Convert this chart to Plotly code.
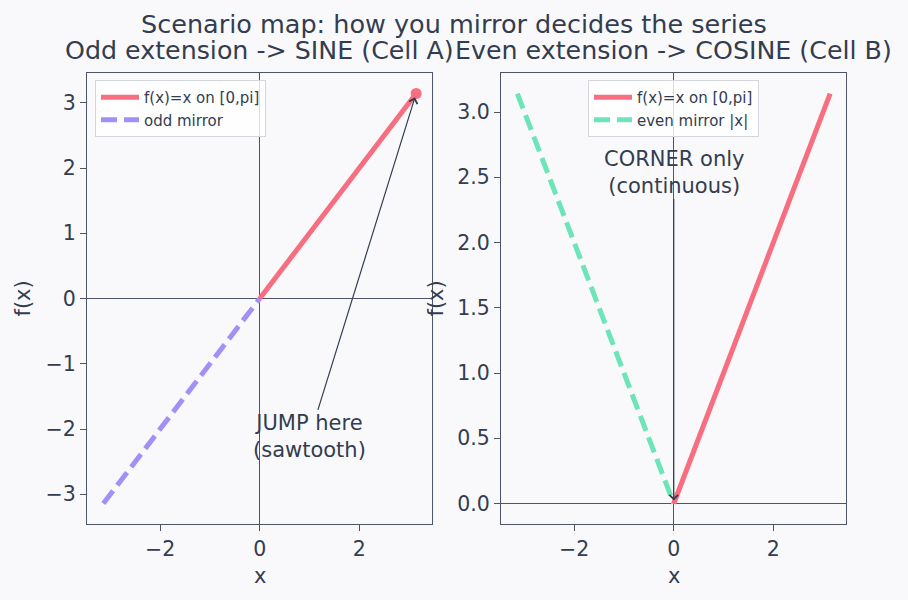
import plotly.graph_objects as go

PI = 3.14159
# data
x_base = [0.0, PI]
y_base = [0.0, PI]
x_mirror = [-PI, 0.0]
y_odd = [-PI, 0.0]
y_even = [PI, 0.0]
end_pt_x = [PI]
end_pt_y = [PI]

left_yticks = [-3, -2, -1, 0, 1, 2, 3]
right_yticks = [0.0, 0.5, 1.0, 1.5, 2.0, 2.5, 3.0]
xticks = [-2, 0, 2]

PINK = "#f76e80"
PURPLE = "#a48ff6"
GREEN = "#6ee5b8"
TEXT = "#333d4f"
SPINE = "#4e5565"
BG = "#f9f9fc"
FONT = "DejaVu Sans"

W, H = 908, 600
def px(x):
    return x / W
def py(y):
    return 1 - y / H

fig = go.Figure()

# Left panel
fig.add_trace(go.Scatter(x=x_mirror, y=y_odd, mode="lines", name="odd mirror",
                         line=dict(color=PURPLE, width=5, dash="16px,7px"),
                         xaxis="x", yaxis="y", legend="legend"))
fig.add_trace(go.Scatter(x=x_base, y=y_base, mode="lines", name="f(x)=x on [0,pi]",
                         line=dict(color=PINK, width=5),
                         xaxis="x", yaxis="y", legend="legend", legendrank=1))
fig.add_trace(go.Scatter(x=end_pt_x, y=end_pt_y, mode="markers", showlegend=False,
                         marker=dict(color=PINK, size=11),
                         xaxis="x", yaxis="y"))

# Right panel
fig.add_trace(go.Scatter(x=x_mirror, y=y_even, mode="lines", name="even mirror |x|",
                         line=dict(color=GREEN, width=5, dash="16px,7px"),
                         xaxis="x2", yaxis="y2", legend="legend2"))
fig.add_trace(go.Scatter(x=x_base, y=y_base, mode="lines", name="f(x)=x on [0,pi]",
                         line=dict(color=PINK, width=5),
                         xaxis="x2", yaxis="y2", legend="legend2", legendrank=1))

ax_common = dict(showline=True, mirror=True, linecolor=SPINE, linewidth=1.3,
                 ticks="outside", ticklen=6, tickcolor=SPINE, tickwidth=1.2,
                 showgrid=False, zeroline=True, zerolinecolor=SPINE, zerolinewidth=1.2,
                 tickfont=dict(family=FONT, size=20.5, color=TEXT))

yd = [py(524), py(73)]
legend_common = dict(bgcolor="rgba(255,255,255,0.8)", bordercolor="#d3d6dd", borderwidth=1,
                     font=dict(family=FONT, size=15, color=TEXT), tracegroupgap=0,
                     itemwidth=38, yanchor="top")
fig.update_layout(
    width=W, height=H,
    margin=dict(l=0, r=0, t=0, b=0),
    paper_bgcolor=BG, plot_bgcolor=BG,
    font=dict(family=FONT, color=TEXT),
    xaxis=dict(domain=[px(87), px(432)], range=[-3.47, 3.46], tickvals=xticks,
               anchor="y", **ax_common),
    yaxis=dict(domain=yd, range=[-3.456, 3.456], tickvals=left_yticks,
               anchor="x", **ax_common),
    xaxis2=dict(domain=[px(501), px(846)], range=[-3.47, 3.46], tickvals=xticks,
                anchor="y2", **ax_common),
    yaxis2=dict(domain=yd, range=[-0.157, 3.299], tickvals=right_yticks,
                tickformat=".1f", anchor="x2", **ax_common),
    legend=dict(x=px(95), y=py(80), xanchor="left", **legend_common),
    legend2=dict(x=px(673.5), y=py(80), xanchor="center", **legend_common),
    showlegend=True,
)

annos = [
    dict(text="Scenario map: how you mirror decides the series", x=px(454), y=py(24),
         font=dict(size=25.5)),
    dict(text="Odd extension -> SINE (Cell A)", x=px(259.5), y=py(51), font=dict(size=25.3)),
    dict(text="Even extension -> COSINE (Cell B)", x=px(673.5), y=py(51), font=dict(size=25.3)),
    dict(text="x", x=px(259.5), y=py(576), font=dict(size=21)),
    dict(text="x", x=px(673.5), y=py(576), font=dict(size=21)),
    dict(text="f(x)", x=px(22), y=py(298.5), textangle=-90, font=dict(size=21)),
    dict(text="f(x)", x=px(435), y=py(298.5), textangle=-90, font=dict(size=21)),
]
for a in annos:
    a.update(xref="paper", yref="paper", showarrow=False, xanchor="center", yanchor="middle")
    a["font"] = dict(family=FONT, color=TEXT, **a["font"])
    fig.add_annotation(**a)

fig.add_annotation(x=PI, y=PI, ax=1.0, ay=-2.12, xref="x", yref="y", axref="x", ayref="y",
                   text="JUMP here<br>(sawtooth)", showarrow=True, arrowhead=4, arrowsize=1.4,
                   arrowwidth=1.2, arrowcolor=TEXT, standoff=4,
                   font=dict(family=FONT, size=21, color=TEXT))
fig.add_annotation(x=0, y=0, ax=0, ay=2.54, xref="x2", yref="y2", axref="x2", ayref="y2",
                   text="CORNER only<br>(continuous)", showarrow=True, arrowhead=4, arrowsize=1.4,
                   arrowwidth=1.2, arrowcolor=TEXT, standoff=3,
                   font=dict(family=FONT, size=21, color=TEXT))

fig.write_html("out.html")
